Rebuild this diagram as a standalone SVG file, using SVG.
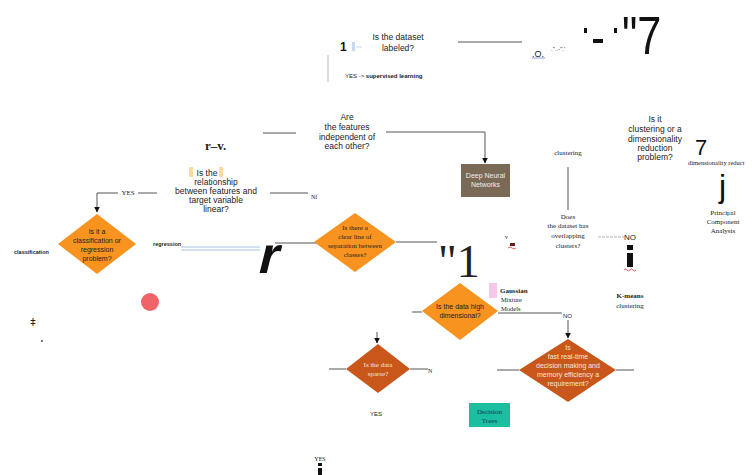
<svg xmlns="http://www.w3.org/2000/svg" width="752" height="475" viewBox="0 0 752 475">
  <style>
    .sans { font-family: "Liberation Sans", Arial, sans-serif; fill: #222; }
    .serif { font-family: "Liberation Serif", "Times New Roman", serif; fill: #222; }
    .q { font-size: 8.5px; text-anchor: middle; }
    .s { font-size: 7px; text-anchor: middle; }
    .line { stroke: #555; stroke-width: 1; fill: none; }
    .big { font-family: "Liberation Sans", Arial, sans-serif; fill: #111; }
    .orange { fill: #f7931e; }
    .rust { fill: #c9561a; }
  </style>
  <defs>
    <marker id="arrow" viewBox="0 0 10 10" refX="9" refY="5" markerWidth="6" markerHeight="6" orient="auto">
      <path d="M0,0 L10,5 L0,10 z" fill="#111"/>
    </marker>
  </defs>
  <rect width="752" height="475" fill="#fff"/>

  <!-- connectors -->
  <g id="connectors">
    <line class="line" x1="458" y1="42" x2="522" y2="42"/>
    <line x1="328" y1="55" x2="328" y2="82" stroke="#bbb" stroke-width="1"/>
    <line class="line" x1="263" y1="133" x2="296" y2="133"/>
    <path class="line" d="M386,132 H485 V163" marker-end="url(#arrow)"/>
    <line class="line" x1="270" y1="193" x2="308" y2="193"/>
    <path class="line" d="M118,193 H97 V212" marker-end="url(#arrow)"/>
    <line class="line" x1="138" y1="193" x2="157" y2="193"/>
    <line x1="181" y1="247" x2="260" y2="247" stroke="#a8c0e0" stroke-width="1"/>
    <line x1="181" y1="250" x2="260" y2="250" stroke="#a8c0e0" stroke-width="1"/>
    <line class="line" x1="275" y1="243" x2="316" y2="243"/>
    <line class="line" x1="396" y1="242" x2="437" y2="242"/>
    <line class="line" x1="412" y1="312" x2="422" y2="312"/>
    <line class="line" x1="498" y1="313" x2="562" y2="313"/>
    <path class="line" d="M568,320 V338" marker-end="url(#arrow)"/>
    <line class="line" x1="497" y1="370" x2="519" y2="370"/>
    <line class="line" x1="616" y1="370" x2="634" y2="370"/>
    <path class="line" d="M377,332 V343" marker-end="url(#arrow)"/>
    <line class="line" x1="329" y1="369" x2="346" y2="369"/>
    <line class="line" x1="410" y1="369" x2="428" y2="369"/>
    <line class="line" x1="568" y1="167" x2="568" y2="210"/>
    <line x1="598" y1="237" x2="624" y2="237" stroke="#999" stroke-width="0.8" stroke-dasharray="3,1"/>
  </g>

  <!-- top: dataset labeled -->
  <g id="q-labeled">
    <text class="sans q" x="398" y="40">Is the dataset</text>
    <text class="sans q" x="398" y="51">labeled?</text>
    <text class="big" x="340" y="51" font-size="12" font-weight="bold">1</text>
    <rect x="352" y="42" width="3" height="9" fill="#c8d8ee"/>
    <line x1="356" y1="47" x2="362" y2="47" stroke="#c8d8ee"/>
    <text class="sans" x="345" y="78" font-size="6">YES -&gt; <tspan font-weight="bold">supervised learning</tspan></text>
  </g>

  <g id="glyphs-top">
    <text class="sans" x="532" y="57" font-size="9" fill="#6a8cc8">.O.</text>
    <line x1="532" y1="58" x2="545" y2="58" stroke="#6a8cc8" stroke-width="0.8"/>
    <text class="sans" x="551" y="51" font-size="6">."..-".'</text>
    <rect x="584" y="28" width="3" height="5" fill="#111"/>
    <rect x="593" y="39" width="10" height="4" fill="#111"/>
    <rect x="614" y="28" width="3" height="5" fill="#111"/>
    <text class="big" x="0" y="0" font-size="54" transform="translate(622,54) scale(0.8,1)">"7</text>
  </g>

  <!-- features independence -->
  <g id="q-independent">
    <text class="sans q" x="347" y="120">Are</text>
    <text class="sans q" x="347" y="130">the features</text>
    <text class="sans q" x="347" y="140">independent of</text>
    <text class="sans q" x="347" y="149">each other?</text>
    <text class="serif" x="205" y="150" font-size="13" font-weight="bold" fill="#333">r–v.</text>
  </g>

  <g id="dnn">
    <rect x="461" y="164" width="49" height="33" fill="#7a6a55"/>
    <text class="sans s" x="485.5" y="178" style="fill:#eee">Deep Neural</text>
    <text class="sans s" x="485.5" y="187" style="fill:#eee">Networks</text>
  </g>

  <!-- linear relationship -->
  <g id="q-linear">
    <rect x="189" y="167" width="4" height="10" fill="#fad9a8"/>
    <rect x="219" y="167" width="4" height="10" fill="#fad9a8"/>
    <text class="sans q" x="207" y="176" font-size="9">Is the</text>
    <text class="sans q" x="216" y="185">relationship</text>
    <text class="sans q" x="216" y="194">between features and</text>
    <text class="sans q" x="216" y="203">target variable</text>
    <text class="sans q" x="216" y="212">linear?</text>
    <text class="serif" x="311" y="199" font-size="6">Nf</text>
    <text class="serif" x="128" y="195" font-size="7" text-anchor="middle">YES</text>
  </g>

  <!-- classification or regression -->
  <g id="q-class-reg">
    <polygon class="orange" points="97,214 136,244 97,274 58,244"/>
    <text class="sans s" x="97" y="234" font-size="7.5">Is it a</text>
    <text class="sans s" x="97" y="243" font-size="7.5">classification or</text>
    <text class="sans s" x="97" y="252" font-size="7.5">regression</text>
    <text class="sans s" x="97" y="261" font-size="7.5">problem?</text>
    <text class="sans" x="14" y="254" font-size="5.5" font-weight="bold">classification</text>
    <text class="sans" x="153" y="246" font-size="5.5" font-weight="bold">regression</text>
    <text class="big" x="0" y="0" font-size="52" font-weight="bold" transform="translate(256,273) skewX(-14)">r</text>
  </g>

  <!-- clear line of separation -->
  <g id="q-separation">
    <polygon class="orange" points="355,213 396,242 355,272 314,242"/>
    <text class="serif s" x="355" y="230">Is there a</text>
    <text class="serif s" x="355" y="239">clear line of</text>
    <text class="serif s" x="355" y="248">separation between</text>
    <text class="serif s" x="355" y="257">classes?</text>
    <text class="serif" x="438" y="277" font-size="46" fill="#111">"1</text>
  </g>

  <g id="marks-mid">
    <text class="serif" x="505" y="239" font-size="6">v</text>
    <rect x="510" y="243" width="5" height="3" fill="#6a1a1a"/>
    <path d="M508,248 q2,-2 4,0 q2,2 4,0" stroke="#d33" stroke-width="0.8" fill="none"/>
    <circle cx="150" cy="302" r="9" fill="#f06469"/>
    <text class="sans" x="30" y="326" font-size="10">ǂ</text>
    <circle cx="42" cy="341" r="0.9" fill="#335"/>
  </g>

  <!-- high dimensional -->
  <g id="q-high-dim">
    <polygon class="orange" points="460,283 498,311 460,340 422,311"/>
    <text class="sans s" x="460" y="309" font-size="7.5">Is the data high</text>
    <text class="sans s" x="460" y="318" font-size="7.5">dimensional?</text>
    <text class="sans" x="563" y="318" font-size="6">NO</text>
  </g>

  <g id="gmm">
    <rect x="489" y="283" width="8" height="15" fill="#f5c8e8"/>
    <text class="serif" x="500" y="293" font-size="7" font-weight="bold">Gaussian</text>
    <text class="serif" x="501" y="302" font-size="6.5" fill="#555">Mixture</text>
    <text class="serif" x="501" y="311" font-size="6.5" fill="#555">Models</text>
  </g>

  <!-- fast real-time -->
  <g id="q-realtime">
    <polygon class="rust" points="568,339 616,370 568,402 519,370"/>
    <text class="sans s" x="568" y="350" style="fill:#f4e6dc">Is</text>
    <text class="sans s" x="568" y="359" style="fill:#f4e6dc">fast real-time</text>
    <text class="sans s" x="568" y="368" style="fill:#f4e6dc">decision making and</text>
    <text class="sans s" x="568" y="377" style="fill:#f4e6dc">memory efficiency a</text>
    <text class="sans s" x="568" y="386" style="fill:#f4e6dc">requirement?</text>
  </g>

  <!-- sparse -->
  <g id="q-sparse">
    <polygon class="rust" points="378,344 410,369 378,393 346,369"/>
    <text class="serif s" x="378" y="367" style="fill:#f4e6dc">Is the data</text>
    <text class="serif s" x="378" y="376" style="fill:#f4e6dc">sparse?</text>
    <text class="serif" x="428" y="373" font-size="6">N</text>
    <text class="sans" x="376" y="416" font-size="6" text-anchor="middle" fill="#555">YES</text>
  </g>

  <g id="decision-trees">
    <rect x="469" y="403" width="41" height="24" fill="#1bbfa0"/>
    <text class="serif s" x="489.5" y="414" style="fill:#135">Decision</text>
    <text class="serif s" x="489.5" y="423" style="fill:#135">Trees</text>
  </g>

  <g id="bottom-yes">
    <text class="serif" x="320" y="461" font-size="6" text-anchor="middle">YES</text>
    <rect x="318" y="463" width="4" height="3" fill="#111"/>
    <rect x="318" y="468" width="4" height="7" fill="#111"/>
  </g>

  <!-- clustering branch -->
  <g id="clustering">
    <text class="serif s" x="568" y="155">clustering</text>
  </g>

  <g id="q-overlap">
    <text class="serif s" x="568" y="219">Does</text>
    <text class="serif s" x="568" y="228">the dataset has</text>
    <text class="serif s" x="568" y="238">overlapping</text>
    <text class="serif s" x="568" y="248">clusters?</text>
    <text class="sans" x="624" y="240" font-size="8">NO</text>
    <rect x="627" y="245" width="6" height="5" fill="#111"/>
    <rect x="627" y="253" width="6" height="14" fill="#111"/>
    <path d="M624,270 q1.5,-2 3,0 q1.5,2 3,0 q1.5,-2 3,0 q1.5,2 3,0" stroke="#d33" stroke-width="0.8" fill="none"/>
  </g>

  <g id="kmeans">
    <text class="serif s" x="630" y="298" font-weight="bold">K-means</text>
    <text class="serif s" x="630" y="308">clustering</text>
  </g>

  <g id="q-cluster-dim">
    <text class="sans q" x="655" y="122">Is it</text>
    <text class="sans q" x="655" y="132">clustering or a</text>
    <text class="sans q" x="655" y="142">dimensionality</text>
    <text class="sans q" x="655" y="151">reduction</text>
    <text class="sans q" x="655" y="160">problem?</text>
    <text class="big" x="695" y="155" font-size="22">7</text>
    <text class="serif" x="688" y="165" font-size="6.5">dimensionality  reduct</text>
    <text class="big" x="719" y="197" font-size="32">j</text>
  </g>

  <g id="pca">
    <text class="serif s" x="723" y="215">Principal</text>
    <text class="serif s" x="723" y="224">Component</text>
    <text class="serif s" x="723" y="233">Analysis</text>
  </g>
</svg>
